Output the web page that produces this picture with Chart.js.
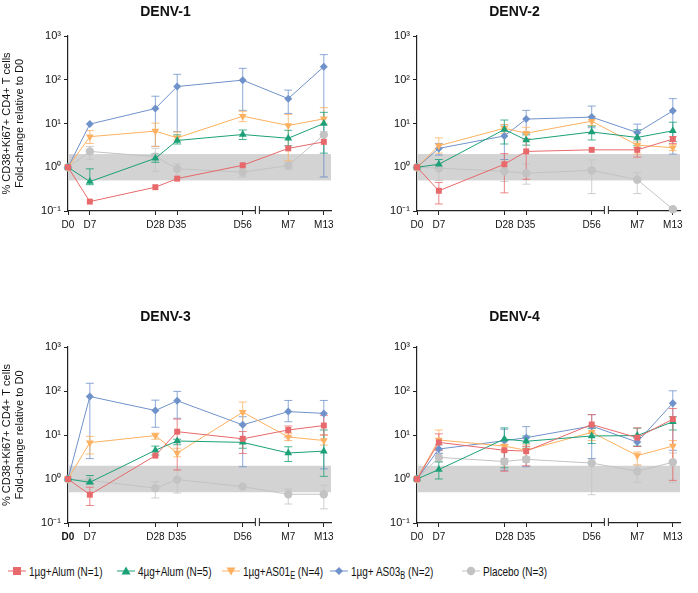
<!DOCTYPE html>
<html>
<head>
<meta charset="utf-8">
<script src="https://cdn.jsdelivr.net/npm/chart.js@4.4.1/dist/chart.umd.min.js"></script>
<style>
  body { margin: 0; background: #fff; width: 698px; height: 593px; position: relative; overflow: hidden;
         font-family: "Liberation Sans", Arial, sans-serif; }
  .painel { position: absolute; }
  #legenda { position: absolute; left: 0; top: 563px; width: 698px; height: 20px; font-size: 13.5px; color: #111; }
  .item { position: absolute; top: 0; white-space: nowrap; line-height: 18px; }
  .item svg { vertical-align: middle; margin-top: -2px; }
  .item .txt { display: inline-block; transform: scaleX(0.74); transform-origin: left center; margin-left: 3px; }
  .item sub { font-size: 10px; vertical-align: -3px; line-height: 0; }
</style>
</head>
<body>
<div class="painel" style="left:0;top:0"><canvas id="c1" width="349" height="270"></canvas></div>
<div class="painel" style="left:349px;top:0"><canvas id="c2" width="349" height="270"></canvas></div>
<div class="painel" style="left:0;top:270px"><canvas id="c3" width="349" height="285"></canvas></div>
<div class="painel" style="left:349px;top:270px"><canvas id="c4" width="349" height="285"></canvas></div>
<div id="legenda"></div>

<script>
// Eixos
const DIAS = ['D0', 'D7', 'D28', 'D35', 'D56', 'M7', 'M13'];
const POSICOES = [0, 7, 28, 35, 56, 70.6, 82];
const QUEBRA_X = 60.7;
const X_MAX = 84.3;
const Y_TICKS = [0.1, 1, 10, 100, 1000];
const Y_LABELS = ['10⁻¹', '10⁰', '10¹', '10²', '10³'];
const FAIXA = [0.5, 2];

const CORES = {
  alum1: '#e8696b',
  alum4: '#1ba077',
  as01e: '#fdb160',
  as03b: '#7092cb',
  placebo: '#c3c3c3'
};

const ESTILOS = {
  alum1: { pointStyle: 'rect', radius: 4.2, rotation: 0 },
  alum4: { pointStyle: 'triangle', radius: 4.5, rotation: 0 },
  as01e: { pointStyle: 'triangle', radius: 4.5, rotation: 180 },
  as03b: { pointStyle: 'rectRot', radius: 4, rotation: 0 },
  placebo: { pointStyle: 'circle', radius: 4.2, rotation: 0 }
};

// DENV-1
const d1Alum1 = [1, 0.164, 0.35, 0.55, 1.11, 2.7, 3.8];
const d1Alum1Hi = [null, null, null, null, null, null, null];
const d1Alum1Lo = [null, null, null, null, null, null, null];
const d1Alum4 = [1, 0.47, 1.6, 4.1, 5.6, 4.6, 10];
const d1Alum4Hi = [null, 0.92, 2.0, 5.5, 7.1, 7, 18];
const d1Alum4Lo = [null, 0.4, 1.3, 3.4, 4.3, 3.1, 2.1];
const d1As01e = [1, 5.0, 6.7, 4.7, 14.7, 9, 12.8];
const d1As01eHi = [null, 6.9, 10.2, 6.4, 19, 16, 23];
const d1As01eLo = [null, 3.5, 3, 4.2, 11, 1.4, 9.8];
const d1As03b = [1, 9.7, 22, 70, 98, 37, 199];
const d1As03bHi = [null, null, 42, 133, 182, 58, 375];
const d1As03bLo = [null, null, 3, 6.5, 20, 17, 0.6];
const d1Placebo = [1, 2.3, 1.75, 0.92, 0.77, 1.09, 5.5];
const d1PlaceboHi = [null, 3.0, 2.7, 1.2, 1.0, 1.3, 6.5];
const d1PlaceboLo = [null, 1.5, 0.8, 0.6, 0.6, 0.9, 0.6];

// DENV-2
const d2Alum1 = [1, 0.29, 1.17, 2.3, 2.5, 2.5, 4.4];
const d2Alum1Hi = [null, 0.45, 2.05, 4.5, null, 2.8, 5];
const d2Alum1Lo = [null, 0.145, 0.26, 0.53, null, 1.7, 3.5];
const d2Alum4 = [1, 1.17, 7.3, 4.2, 6.4, 4.8, 6.8];
const d2Alum4Hi = [null, 1.5, 12, 5.5, 8.7, 7.2, 10.7];
const d2Alum4Lo = [null, 0.95, 3.4, 3.2, 4.2, 3.1, 3.9];
const d2As01e = [1, 3.1, 7.8, 6.0, 11.3, 3.2, 2.8];
const d2As01eHi = [null, 4.7, 9.5, 8.2, 14.5, 3.8, 3.3];
const d2As01eLo = [null, 2.1, 6, 4.2, 9, 2.0, 2.4];
const d2As03b = [1, 2.7, 5.2, 12.6, 14, 6.2, 19.5];
const d2As03bHi = [null, 3.5, 9.3, 20, 25, 9.7, 37];
const d2As03bLo = [null, 1.9, 1.5, 6, 8, 4.2, 2.0];
const d2Placebo = [1, 0.95, 0.81, 0.73, 0.85, 0.52, 0.11];
const d2PlaceboHi = [null, 1.2, 1.5, 1.2, 1.47, 0.75, null];
const d2PlaceboLo = [null, 0.5, 0.47, 0.41, 0.25, 0.25, null];

// DENV-3
const d3Alum1 = [1, 0.44, 3.4, 11.9, 8.2, 13, 16.4];
const d3Alum1Hi = [null, 0.65, null, 23, 12, 16, 28];
const d3Alum1Lo = [null, 0.25, null, 1.6, 3.8, 9, 10];
const d3Alum4 = [1, 0.84, 4.5, 7.3, 6.8, 3.9, 4.3];
const d3Alum4Hi = [null, 1.2, 5.6, 8, 8, 5.4, 13];
const d3Alum4Lo = [null, 0.78, 3.5, 6, 5, 2.5, 1.15];
const d3As01e = [1, 6.7, 9.7, 3.9, 33, 9.0, 7.5];
const d3As01eHi = [null, 9.3, 11, 5, 56, 11, 10];
const d3As01eLo = [null, 3.7, 8, 3.2, 17, 7.5, 5.9];
const d3As03b = [1, 75, 36, 60, 17, 34, 31];
const d3As03bHi = [null, 150, 62, 98, 26, 61, 61];
const d3As03bLo = [null, 2.9, 15, 24, 1.9, 20, 1.7];
const d3Placebo = [1, 0.93, 0.62, 0.97, 0.67, 0.45, 0.45];
const d3PlaceboHi = [null, 1.2, 0.87, 1.6, null, 0.59, 0.72];
const d3PlaceboLo = [null, 0.8, 0.37, 0.48, null, 0.27, 0.21];

// DENV-4
const d4Alum1 = [1, 6.8, 4.5, 4.3, 17.3, 8.7, 23];
const d4Alum1Hi = [null, 10.6, 6, 5.5, 29, 14.5, 40];
const d4Alum1Lo = [null, 4.5, 1.5, 2.0, 11, 5.5, 0.93];
const d4Alum4 = [1, 1.64, 8.1, 7.2, 9.5, 9.7, 20];
const d4Alum4Hi = [null, 2.45, 14.5, 9.5, 14, 14.3, 26];
const d4Alum4Lo = [null, 1.0, 1.8, 5, 6.4, 5.6, 13];
const d4As01e = [1, 7.7, 5.6, 4.5, 11.5, 3.4, 5.6];
const d4As01eHi = [null, 13, 7.5, 6, 16, 4.1, 7.5];
const d4As01eLo = [null, 4.5, 4.2, 3, 7.5, 2.1, 2.4];
const d4As03b = [1, 4.8, 7.4, 8.7, 16, 6.9, 53];
const d4As03bHi = [null, 6, 13.5, 15.5, 29, 8.5, 101];
const d4As03bLo = [null, 3.8, 1.58, 1.9, 2.9, 5.5, 4.5];
const d4Placebo = [1, 3.1, 2.5, 2.8, 2.3, 1.5, 2.4];
const d4PlaceboHi = [null, 3.9, 2.9, 3.2, 2.9, 2.05, 3.9];
const d4PlaceboLo = [null, 2.45, 2.1, 2.4, 0.44, 0.84, 0.84];

const FONTE = '"Liberation Sans", Arial, sans-serif';

/**
 * Monta um dataset com barras de erro
 */
function serie(chave, valores, alto, baixo) {
  const est = ESTILOS[chave];
  return {
    data: valores.map((v, i) => ({ x: POSICOES[i], y: v })),
    erroAlto: alto,
    erroBaixo: baixo,
    borderColor: CORES[chave],
    backgroundColor: CORES[chave],
    borderWidth: 1,
    pointStyle: est.pointStyle,
    pointRadius: est.radius,
    pointRotation: est.rotation,
    pointBorderWidth: 0,
    pointBackgroundColor: CORES[chave],
    showLine: true,
    tension: 0,
    clip: false
  };
}

// Faixa cinza, barras de erro e quebra do eixo
const decoracoes = {
  id: 'decoracoes',
  beforeDatasetsDraw(chart) {
    const { ctx, chartArea, scales: { x, y } } = chart;
    ctx.save();
    const x0 = x.getPixelForValue(0);
    const yTopo = y.getPixelForValue(FAIXA[1]);
    const yBase = y.getPixelForValue(FAIXA[0]);
    ctx.fillStyle = '#d3d3d3';
    ctx.fillRect(x0, yTopo, chartArea.right - x0, yBase - yTopo);

    // barras de erro (de trás para a frente)
    [...chart.data.datasets].reverse().forEach(ds => {
      ctx.strokeStyle = ds.borderColor;
      ctx.globalAlpha = 0.8;
      ctx.lineWidth = 1;
      ds.data.forEach((p, i) => {
        const px = x.getPixelForValue(p.x);
        const hi = ds.erroAlto[i];
        const lo = ds.erroBaixo[i];
        ctx.beginPath();
        if (hi != null) {
          const py = y.getPixelForValue(hi);
          ctx.moveTo(px, y.getPixelForValue(p.y));
          ctx.lineTo(px, py);
          ctx.moveTo(px - 4, py);
          ctx.lineTo(px + 4, py);
        }
        if (lo != null) {
          const py = y.getPixelForValue(lo);
          ctx.moveTo(px, y.getPixelForValue(p.y));
          ctx.lineTo(px, py);
          ctx.moveTo(px - 4, py);
          ctx.lineTo(px + 4, py);
        }
        ctx.stroke();
      });
    });
    ctx.restore();
  },
  afterDraw(chart) {
    const { ctx, chartArea, scales: { x } } = chart;
    const bx = x.getPixelForValue(QUEBRA_X);
    const by = chartArea.bottom;
    ctx.save();
    ctx.fillStyle = '#fff';
    ctx.fillRect(bx - 2, by - 2, 4, 4);
    ctx.strokeStyle = '#222';
    ctx.lineWidth = 1;
    ctx.beginPath();
    ctx.moveTo(bx - 2, by - 5);
    ctx.lineTo(bx - 2, by + 3);
    ctx.moveTo(bx + 2, by - 5);
    ctx.lineTo(bx + 2, by + 3);
    ctx.stroke();
    ctx.restore();
  }
};

/**
 * Cria um painel
 */
function criarPainel(id, titulo, datasets, cfg) {
  const ctx = document.getElementById(id).getContext('2d');
  return new Chart(ctx, {
    type: 'scatter',
    data: { datasets },
    plugins: [decoracoes],
    options: {
      responsive: false,
      animation: false,
      layout: { padding: { left: 0, right: 18, top: 0, bottom: 0 } },
      plugins: {
        legend: { display: false },
        tooltip: { enabled: false },
        title: {
          display: true,
          text: titulo,
          color: '#111',
          font: { size: 14, weight: 'bold', family: FONTE },
          padding: { top: cfg.tituloTopo, bottom: cfg.tituloBaixo }
        }
      },
      scales: {
        x: {
          type: 'linear',
          min: 0,
          max: X_MAX,
          afterBuildTicks: s => { s.ticks = POSICOES.map(v => ({ value: v })); },
          afterFit: s => { s.height = cfg.alturaX; },
          border: { display: true, color: '#222', width: 1.2 },
          grid: { display: true, drawOnChartArea: false, drawTicks: true, tickLength: 4, color: '#222' },
          ticks: {
            autoSkip: false,
            maxRotation: 0,
            padding: 4,
            color: '#111',
            font: c => ({ size: 10, family: FONTE, weight: (cfg.d0Negrito && c.index === 0) ? 'bold' : 'normal' }),
            callback: (v, i) => DIAS[i]
          }
        },
        y: {
          type: 'logarithmic',
          min: 0.1,
          max: 1000,
          afterBuildTicks: s => { s.ticks = Y_TICKS.map(v => ({ value: v })); },
          afterFit: s => { s.width = 68; },
          border: { display: true, color: '#222', width: 1.2 },
          grid: { display: true, drawOnChartArea: false, drawTicks: true, tickLength: 4, color: '#222' },
          title: {
            display: cfg.tituloY,
            text: ['% CD38+Ki67+ CD4+ T cells', 'Fold-change relative to D0'],
            color: '#111',
            font: { size: 11, family: FONTE, lineHeight: 1.2 },
            padding: { top: 0, bottom: 0 }
          },
          ticks: {
            padding: 3,
            color: '#111',
            font: { size: 11, family: FONTE },
            callback: (v) => Y_LABELS[Y_TICKS.indexOf(v)]
          }
        }
      }
    }
  });
}

const cimaCfg = { tituloTopo: 3.6, tituloBaixo: 15.6, alturaX: 59 };
const baixoCfg = { tituloTopo: 38.6, tituloBaixo: 21.6, alturaX: 32 };

criarPainel('c1', 'DENV-1', [
  serie('alum1', d1Alum1, d1Alum1Hi, d1Alum1Lo),
  serie('alum4', d1Alum4, d1Alum4Hi, d1Alum4Lo),
  serie('as01e', d1As01e, d1As01eHi, d1As01eLo),
  serie('as03b', d1As03b, d1As03bHi, d1As03bLo),
  serie('placebo', d1Placebo, d1PlaceboHi, d1PlaceboLo)
], { ...cimaCfg, tituloY: true });

criarPainel('c2', 'DENV-2', [
  serie('alum1', d2Alum1, d2Alum1Hi, d2Alum1Lo),
  serie('alum4', d2Alum4, d2Alum4Hi, d2Alum4Lo),
  serie('as01e', d2As01e, d2As01eHi, d2As01eLo),
  serie('as03b', d2As03b, d2As03bHi, d2As03bLo),
  serie('placebo', d2Placebo, d2PlaceboHi, d2PlaceboLo)
], { ...cimaCfg, tituloY: false });

criarPainel('c3', 'DENV-3', [
  serie('alum1', d3Alum1, d3Alum1Hi, d3Alum1Lo),
  serie('alum4', d3Alum4, d3Alum4Hi, d3Alum4Lo),
  serie('as01e', d3As01e, d3As01eHi, d3As01eLo),
  serie('as03b', d3As03b, d3As03bHi, d3As03bLo),
  serie('placebo', d3Placebo, d3PlaceboHi, d3PlaceboLo)
], { ...baixoCfg, tituloY: true, d0Negrito: true });

criarPainel('c4', 'DENV-4', [
  serie('alum1', d4Alum1, d4Alum1Hi, d4Alum1Lo),
  serie('alum4', d4Alum4, d4Alum4Hi, d4Alum4Lo),
  serie('as01e', d4As01e, d4As01eHi, d4As01eLo),
  serie('as03b', d4As03b, d4As03bHi, d4As03bLo),
  serie('placebo', d4Placebo, d4PlaceboHi, d4PlaceboLo)
], { ...baixoCfg, tituloY: false });

// Legenda
const LEGENDA_CHAVES = ['alum1', 'alum4', 'as01e', 'as03b', 'placebo'];
const LEGENDA_TEXTOS = ['1µg+Alum (N=1)', '4µg+Alum (N=5)', '1µg+AS01<sub>E</sub> (N=4)', '1µg+ AS03<sub>B</sub> (N=2)', 'Placebo (N=3)'];
const LEGENDA_X = [8, 117, 222, 330, 462];

function marcador(chave) {
  const c = CORES[chave];
  let forma = '';
  if (chave === 'alum1') forma = `<rect x="5" y="3" width="8" height="8" fill="${c}"/>`;
  if (chave === 'alum4') forma = `<polygon points="9,2.5 13.5,10.5 4.5,10.5" fill="${c}"/>`;
  if (chave === 'as01e') forma = `<polygon points="4.5,3.5 13.5,3.5 9,11.5" fill="${c}"/>`;
  if (chave === 'as03b') forma = `<polygon points="9,3 13,7 9,11 5,7" fill="${c}"/>`;
  if (chave === 'placebo') forma = `<circle cx="9" cy="7" r="4.2" fill="${c}"/>`;
  return `<svg width="18" height="14"><line x1="0" y1="7" x2="18" y2="7" stroke="${c}" stroke-width="1"/>${forma}</svg>`;
}

document.getElementById('legenda').innerHTML = LEGENDA_CHAVES.map((k, i) =>
  `<div class="item" style="left:${LEGENDA_X[i]}px">${marcador(k)}<span class="txt">${LEGENDA_TEXTOS[i]}</span></div>`
).join('');
</script>
</body>
</html>
